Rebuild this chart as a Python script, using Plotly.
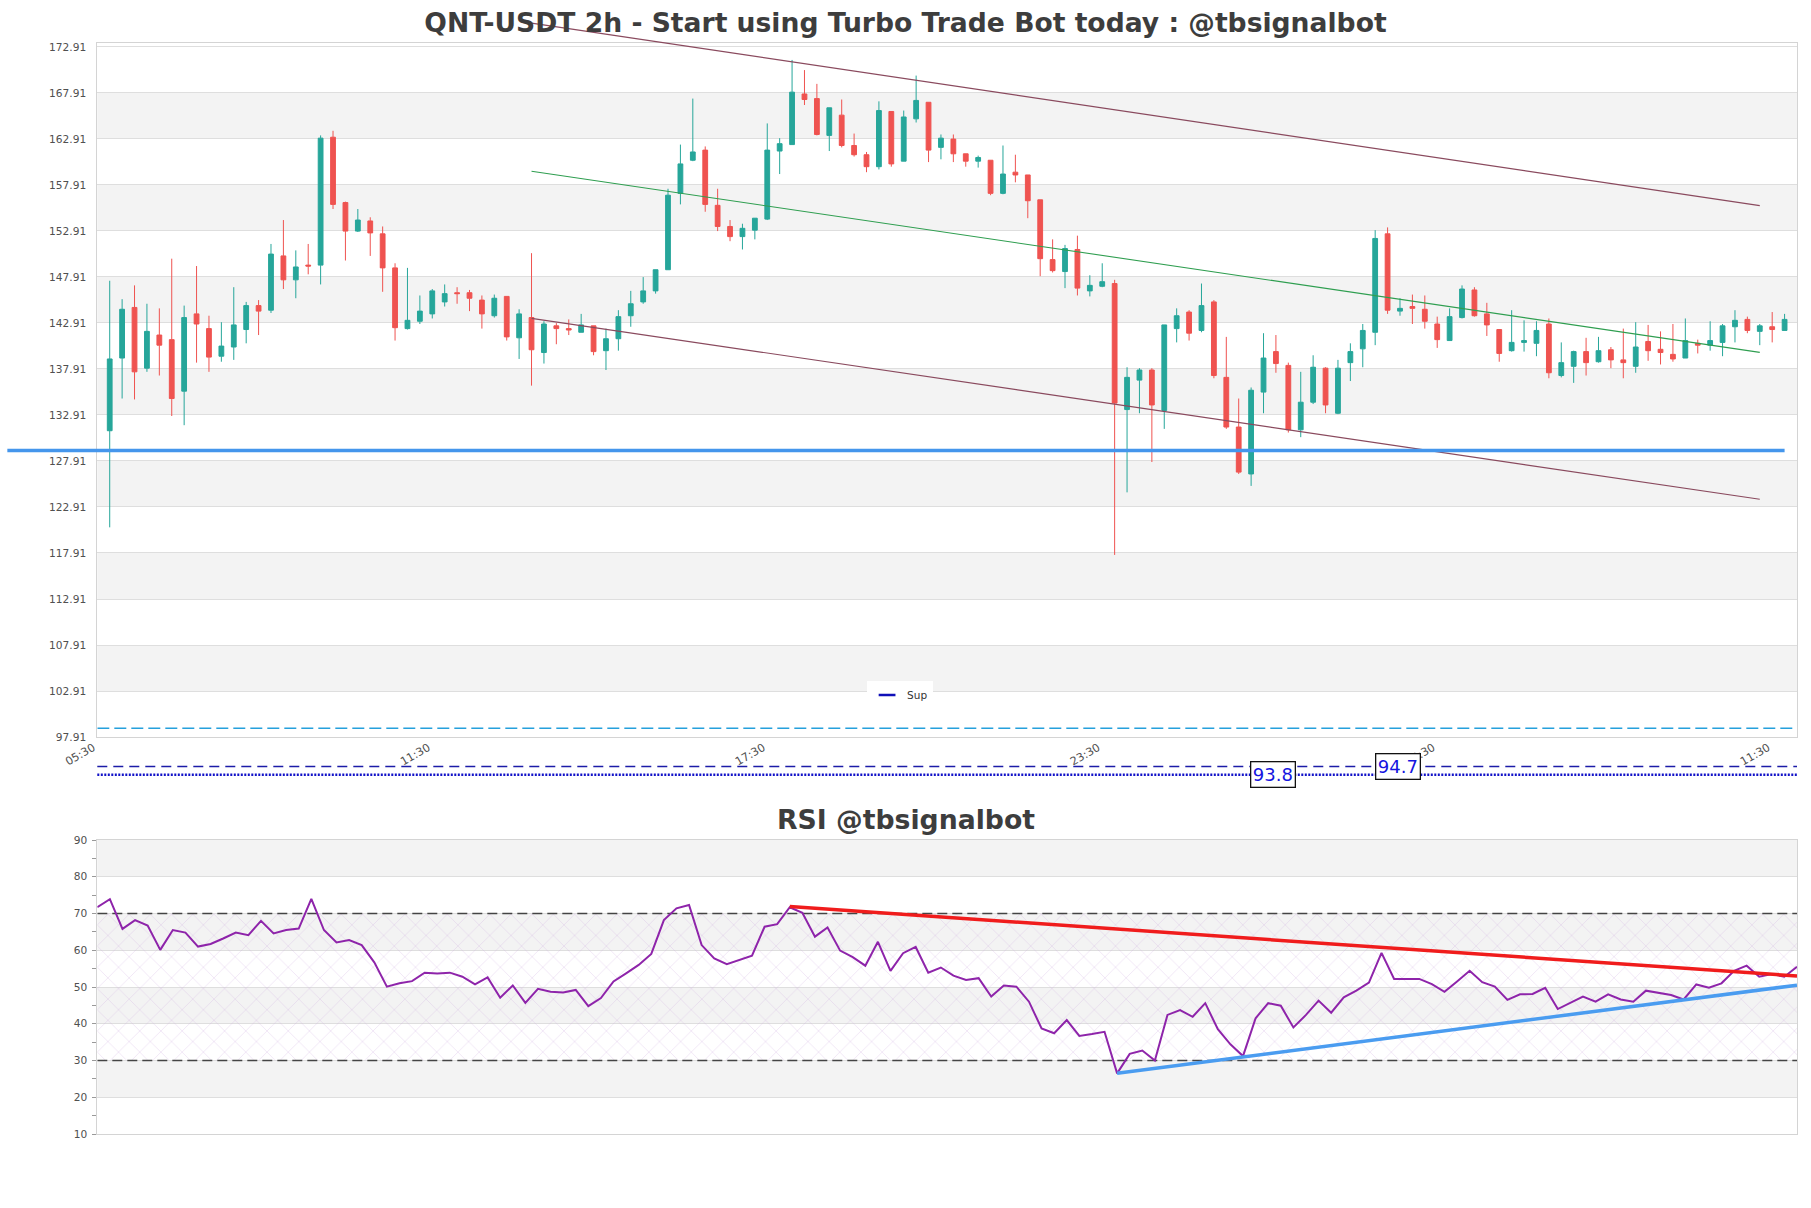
import numpy as np
import pandas as pd
import plotly.graph_objects as go

W, H = 1811, 1208

# ---------------- data ----------------
start = pd.Timestamp("2024-06-01 07:30")
bar_hours = 2

opens = [131.2, 139.1, 144.6, 138.0, 141.6, 141.1, 135.5, 143.9, 142.3, 139.3,
         140.3, 142.2, 144.8, 144.3, 150.2, 147.6, 149.2, 149.2, 163.1, 156.0,
         152.9, 154.0, 152.6, 148.9, 142.3, 143.1, 143.9, 145.2, 146.2, 146.2,
         145.4, 143.7, 145.8, 141.3, 143.5, 139.7, 142.6, 142.3, 141.9, 142.6,
         139.9, 141.2, 143.7, 145.2, 146.4, 148.7, 157.0, 160.6, 161.7, 155.7,
         153.4, 152.3, 153.0, 154.2, 161.6, 162.3, 167.8, 167.3, 163.3, 165.5,
         162.2, 161.2, 159.9, 165.9, 160.5, 165.1, 166.9, 162.0, 162.9, 161.3,
         160.5, 160.6, 157.0, 159.3, 159.0, 156.3, 149.8, 148.5, 150.9, 146.4,
         146.9, 147.2, 133.5, 136.7, 137.8, 133.4, 142.3, 144.1, 142.1, 145.2,
         137.0, 131.6, 126.5, 135.4, 139.8, 138.3, 131.3, 134.3, 138.0, 133.1,
         138.6, 140.1, 141.9, 152.6, 144.2, 144.7, 144.4, 142.8, 141.0, 143.5,
         146.5, 143.9, 142.2, 139.9, 140.8, 140.7, 142.8, 137.2, 138.2, 139.8,
         138.7, 140.0, 138.9, 138.2, 140.9, 140.05, 139.5, 139.1, 140.7, 140.5,
         140.8, 142.5, 143.3, 142.0, 142.5, 142.1]
highs = [147.5, 145.5, 147.0, 145.0, 144.5, 149.9, 144.8, 149.1, 143.7, 143.0,
         146.8, 145.2, 145.4, 151.5, 154.1, 150.8, 151.5, 163.3, 163.8, 156.1,
         155.3, 154.4, 153.4, 149.4, 148.9, 145.9, 146.6, 147.1, 146.8, 146.5,
         145.9, 146.0, 145.8, 144.4, 150.5, 143.1, 142.9, 143.3, 143.9, 142.6,
         142.3, 144.3, 146.4, 147.9, 148.7, 157.5, 162.3, 167.3, 162.1, 157.5,
         154.1, 153.7, 154.3, 164.6, 163.0, 171.5, 170.4, 168.9, 166.3, 167.2,
         163.5, 161.5, 167.0, 165.9, 166.0, 169.8, 166.9, 163.4, 163.4, 161.3,
         161.1, 160.6, 162.2, 161.2, 159.0, 156.3, 152.0, 151.4, 152.4, 148.1,
         149.4, 147.6, 138.1, 138.0, 138.0, 142.7, 144.5, 144.3, 147.2, 145.4,
         141.4, 134.7, 135.9, 141.8, 141.6, 138.6, 137.6, 139.4, 138.1, 138.9,
         140.7, 142.8, 153.0, 153.3, 145.6, 146.0, 145.9, 143.6, 144.5, 147.0,
         146.8, 145.1, 142.2, 144.3, 143.2, 143.1, 143.4, 140.8, 139.9, 141.3,
         141.4, 140.3, 142.3, 143.0, 142.7, 142.0, 142.8, 143.4, 141.1, 143.1,
         142.8, 144.3, 143.6, 142.8, 144.1, 143.9]
lows = [120.7, 134.7, 134.6, 137.6, 137.2, 132.8, 131.8, 138.6, 137.6, 138.7,
        138.9, 140.7, 141.6, 144.0, 146.6, 145.6, 148.2, 147.1, 155.3, 149.7,
        152.8, 150.2, 146.3, 141.0, 142.2, 142.8, 143.4, 144.7, 145.0, 144.2,
        142.3, 143.5, 141.0, 139.0, 136.1, 138.5, 140.6, 141.6, 141.9, 139.4,
        137.8, 139.9, 142.5, 145.0, 146.1, 148.7, 155.8, 160.5, 155.0, 152.9,
        151.8, 150.9, 152.0, 154.1, 159.1, 162.3, 166.6, 163.3, 161.6, 162.0,
        161.0, 159.3, 159.6, 159.9, 160.5, 164.7, 160.4, 160.7, 160.4, 159.9,
        159.8, 156.8, 156.9, 158.2, 154.3, 148.0, 148.4, 146.7, 145.9, 145.8,
        146.8, 117.7, 124.5, 133.1, 127.8, 131.4, 140.8, 141.0, 141.9, 136.9,
        131.4, 126.5, 125.2, 133.1, 137.5, 131.0, 130.5, 134.1, 133.1, 133.0,
        136.6, 138.1, 140.5, 143.9, 143.7, 142.8, 142.3, 140.2, 141.0, 143.4,
        143.6, 141.5, 138.7, 139.8, 139.8, 139.3, 136.9, 137.0, 136.4, 137.2,
        138.6, 138.0, 136.9, 137.5, 138.8, 138.4, 138.7, 139.1, 139.6, 139.9,
        139.3, 140.8, 141.8, 140.5, 140.8, 142.1]
closes = [139.0, 144.4, 137.6, 142.0, 140.5, 134.7, 143.5, 142.8, 139.2, 140.4,
          142.7, 144.8, 144.2, 150.4, 147.6, 149.0, 149.1, 163.0, 155.8, 152.9,
          154.1, 152.7, 148.9, 142.4, 143.2, 144.2, 146.4, 146.1, 146.1, 145.6,
          143.9, 145.6, 141.4, 143.9, 140.0, 142.8, 142.3, 142.15, 142.7, 139.8,
          141.2, 143.6, 145.0, 146.4, 148.7, 156.8, 160.2, 161.5, 155.8, 153.4,
          152.3, 153.2, 154.3, 161.7, 162.4, 168.0, 167.2, 163.4, 166.3, 162.2,
          161.2, 159.9, 166.0, 160.2, 165.3, 167.1, 161.7, 163.0, 161.3, 160.5,
          160.9, 157.0, 159.1, 159.0, 156.2, 149.9, 148.6, 151.0, 146.7, 147.0,
          147.4, 134.2, 137.0, 137.8, 134.0, 142.7, 143.7, 141.8, 144.8, 137.2,
          131.6, 126.7, 135.6, 139.1, 138.5, 131.3, 134.3, 138.1, 134.0, 138.0,
          139.8, 142.1, 152.1, 144.3, 144.5, 144.5, 143.1, 141.1, 143.6, 146.6,
          143.7, 142.7, 139.6, 140.8, 141.0, 142.1, 137.5, 138.6, 139.8, 138.6,
          139.9, 138.9, 138.6, 140.3, 139.9, 139.7, 139.0, 141.0, 140.5, 141.0,
          142.6, 143.2, 142.1, 142.6, 142.2, 143.3]
rsi = [71.7, 73.9, 65.8, 68.2, 66.7, 60.1, 65.5, 64.8, 61.0, 61.7,
       63.2, 64.8, 64.1, 68.0, 64.6, 65.5, 65.9, 74.0, 65.5, 62.1,
       62.8, 61.4, 56.7, 50.1, 51.0, 51.6, 53.9, 53.7, 53.9, 52.8,
       50.7, 52.6, 47.1, 50.4, 45.7, 49.5, 48.7, 48.5, 49.2, 44.8,
       47.0, 51.5, 53.7, 56.0, 59.0, 68.2, 71.4, 72.3, 61.4, 57.8,
       56.2, 57.3, 58.5, 66.4, 67.1, 71.7, 70.2, 63.7, 66.2, 59.9,
       58.1, 55.8, 62.3, 54.4, 59.2, 60.9, 53.9, 55.3, 53.1, 51.9,
       52.4, 47.4, 50.4, 50.1, 46.0, 38.7, 37.4, 41.0, 36.7, 37.2,
       37.8, 26.5, 31.8, 32.7, 30.0, 42.4, 43.7, 41.9, 45.6, 38.5,
       34.4, 31.2, 41.5, 45.6, 44.9, 39.0, 42.4, 46.3, 43.0, 47.2,
       49.0, 51.2, 59.3, 52.2, 52.2, 52.2, 50.8, 48.7, 51.5, 54.4,
       51.3, 50.1, 46.5, 48.0, 48.1, 49.8, 44.0, 45.7, 47.4, 46.0,
       48.0, 46.6, 46.0, 49.0, 48.5, 47.8, 46.6, 50.7, 49.8, 51.0,
       54.4, 55.8, 52.8, 53.5, 52.8, 55.5]

# channel (candle index of start/end, price at start/end)
chan_idx = [34, 133]
chan_upper = [175.5, 155.66]
chan_mid = [159.4, 139.72]
chan_lower = [143.42, 123.75]
sup_idx = [-8.25, 135]
sup_level = 129.05
cyan_level = 98.86
lvl_dashed = 94.7
lvl_dotted = 93.8
label_idx = [93.8, 103.8]
label_vals = [93.8, 94.7]
rsi_res_idx, rsi_res_val = [55, 135], [71.9, 53.0]
rsi_sup_idx, rsi_sup_val = [81, 135], [26.5, 50.5]
rsi_levels = [30, 70]

price_ticks = [round(97.91 + 5 * k, 2) for k in range(16)]
rsi_ticks = list(range(10, 100, 10))
xtick_idx = [-1, 26, 53, 80, 107, 134]

# ---------------- geometry ----------------
n = len(opens)
times = pd.date_range(start, periods=n, freq=f"{bar_hours}h")


def T(i):
    return start + pd.Timedelta(hours=bar_hours * i)


def iso(ts):
    return ts.strftime("%Y-%m-%d %H:%M:%S.%f")


px_left, px_right = 97.3, 1797.0
main_top, main_bot = 43.3, 737.0
rsi_top, rsi_bot = 840.0, 1134.0
xd = [px_left / W, px_right / W]
yd_main = [1 - main_bot / H, 1 - main_top / H]
yd_rsi = [1 - rsi_bot / H, 1 - rsi_top / H]
x_idx_range = [-1, n]
y_main_range = [97.91, 173.31]

# overlay (full-figure) axes with same scale as main subplot
kx = (x_idx_range[1] - x_idx_range[0]) / (xd[1] - xd[0])
x3_idx = [x_idx_range[0] - xd[0] * kx, x_idx_range[1] + (1 - xd[1]) * kx]
ky = (y_main_range[1] - y_main_range[0]) / (yd_main[1] - yd_main[0])
y3_range = [y_main_range[0] - yd_main[0] * ky, y_main_range[1] + (1 - yd_main[1]) * ky]

FONT = "DejaVu Sans"
TXT = "#505050"
GRID = "#dedede"
FRAME = "#d4d4d4"
BAND = "#f3f3f3"

fig = go.Figure()

# candles
fig.add_trace(go.Candlestick(
    x=times, open=opens, high=highs, low=lows, close=closes,
    increasing=dict(line=dict(color="#26a69a", width=1), fillcolor="#26a69a"),
    decreasing=dict(line=dict(color="#ef5350", width=1), fillcolor="#ef5350"),
    showlegend=False, xaxis="x", yaxis="y", hoverinfo="skip"))

# cyan dashed level inside main plot
fig.add_trace(go.Scatter(
    x=[T(x_idx_range[0]), T(x_idx_range[1])], y=[cyan_level, cyan_level],
    mode="lines", line=dict(color="#25a0dc", width=1.3, dash="12px,5px"),
    showlegend=False, xaxis="x", yaxis="y", hoverinfo="skip"))

# overlay lines (not clipped to the main plot)
for vals, col, w in [(chan_upper, "#8a4a5e", 1.2), (chan_mid, "#2f9e50", 1.1),
                     (chan_lower, "#8a4a5e", 1.2)]:
    fig.add_trace(go.Scatter(
        x=[T(chan_idx[0]), T(chan_idx[1])], y=vals, mode="lines",
        line=dict(color=col, width=w), showlegend=False,
        xaxis="x3", yaxis="y3", hoverinfo="skip"))

fig.add_trace(go.Scatter(
    x=[T(sup_idx[0]), T(sup_idx[1])], y=[sup_level, sup_level], mode="lines",
    line=dict(color="#4596ec", width=3.3), showlegend=False,
    xaxis="x3", yaxis="y3", hoverinfo="skip"))

fig.add_trace(go.Scatter(
    x=[T(x_idx_range[0]), T(x_idx_range[1])], y=[lvl_dashed, lvl_dashed], mode="lines",
    line=dict(color="#1c1ca8", width=1.5, dash="10px,6px"), showlegend=False,
    xaxis="x3", yaxis="y3", hoverinfo="skip"))
fig.add_trace(go.Scatter(
    x=[T(x_idx_range[0]), T(x_idx_range[1])], y=[lvl_dotted, lvl_dotted], mode="lines",
    line=dict(color="#1212c8", width=2.6, dash="2px,1.5px"), showlegend=False,
    xaxis="x3", yaxis="y3", hoverinfo="skip"))

# legend entry
fig.add_trace(go.Scatter(
    x=[None], y=[None], mode="markers", name="Sup",
    marker=dict(symbol="line-ew-open", size=12, color="#1010b8",
                line=dict(width=2.5, color="#1010b8")),
    xaxis="x", yaxis="y"))

# RSI hatched zone + dashed levels
fig.add_trace(go.Scatter(
    x=[times[0], times[-1]], y=[rsi_levels[0]] * 2, mode="lines",
    line=dict(color="#444444", width=1.3, dash="10px,5px"),
    showlegend=False, xaxis="x2", yaxis="y2", hoverinfo="skip"))
fig.add_trace(go.Scatter(
    x=[times[0], times[-1]], y=[rsi_levels[1]] * 2, mode="lines",
    line=dict(color="#444444", width=1.3, dash="10px,5px"),
    fill="tonexty", fillcolor="rgba(0,0,0,0)",
    fillpattern=dict(shape="x", size=15, solidity=0.06,
                     fgcolor="rgba(200,160,220,0.55)", bgcolor="rgba(0,0,0,0)"),
    showlegend=False, xaxis="x2", yaxis="y2", hoverinfo="skip"))

fig.add_trace(go.Scatter(
    x=times, y=rsi, mode="lines", line=dict(color="#8e24aa", width=2),
    showlegend=False, xaxis="x2", yaxis="y2", hoverinfo="skip"))
fig.add_trace(go.Scatter(
    x=[T(i) for i in rsi_res_idx], y=rsi_res_val, mode="lines",
    line=dict(color="#f01c1c", width=3.5), showlegend=False,
    xaxis="x2", yaxis="y2", hoverinfo="skip"))
fig.add_trace(go.Scatter(
    x=[T(i) for i in rsi_sup_idx], y=rsi_sup_val, mode="lines",
    line=dict(color="#4a9cf0", width=3.5), showlegend=False,
    xaxis="x2", yaxis="y2", hoverinfo="skip"))

# zebra bands
shapes = []
for k in range(1, len(price_ticks) - 1, 2):
    shapes.append(dict(type="rect", xref="x domain", yref="y", x0=0, x1=1,
                       y0=price_ticks[k], y1=price_ticks[k + 1],
                       fillcolor=BAND, line=dict(width=0), layer="below"))
for k in range(1, len(rsi_ticks) - 1, 2):
    shapes.append(dict(type="rect", xref="x2 domain", yref="y2", x0=0, x1=1,
                       y0=rsi_ticks[k], y1=rsi_ticks[k + 1],
                       fillcolor=BAND, line=dict(width=0), layer="below"))

annotations = [
    dict(text="RSI @tbsignalbot", xref="paper", yref="paper", x=0.5,
         y=1 - 819.5 / H, xanchor="center", yanchor="middle", showarrow=False,
         font=dict(family=FONT, size=26.7, color="#3d3d3d", weight="bold")),
]
for xi, v in zip(label_idx, label_vals):
    annotations.append(dict(
        text=f"{v:.1f}", xref="x3", yref="y3", x=T(xi), y=v, showarrow=False,
        xanchor="center", yanchor="middle",
        font=dict(family=FONT, size=18, color="#1515e0"),
        bgcolor="white", bordercolor="#111111", borderwidth=1.3, borderpad=1.5))

axis_font = dict(family=FONT, size=10.6, color=TXT)

fig.update_layout(
    width=W, height=H, template="none",
    margin=dict(l=0, r=0, t=0, b=0, pad=0),
    paper_bgcolor="white", plot_bgcolor="rgba(0,0,0,0)",
    font=dict(family=FONT, color=TXT),
    boxgap=0.45,
    title=dict(text="QNT-USDT 2h - Start using Turbo Trade Bot today : @tbsignalbot",
               x=0.5, xanchor="center", xref="container",
               y=1 - 22.5 / H, yanchor="middle", yref="container",
               font=dict(family=FONT, size=26.6, color="#3d3d3d", weight="bold")),
    showlegend=True,
    legend=dict(x=0.497, xanchor="center", y=1 - 695 / H, yanchor="middle",
                orientation="h", bgcolor="white", borderwidth=0,
                font=dict(family=FONT, size=10.5, color="#333333"),
                itemwidth=30),
    xaxis=dict(domain=xd, anchor="y", type="date",
               range=[iso(T(x_idx_range[0])), iso(T(x_idx_range[1]))],
               rangeslider=dict(visible=False),
               tickvals=[T(i) for i in xtick_idx], tickformat="%H:%M",
               tickangle=-30, tickfont=dict(family=FONT, size=11.2, color=TXT),
               ticks="", ticklabelshift=-4, ticklabelstandoff=-1,
               showgrid=False, zeroline=False, showline=True, mirror=True,
               linecolor=FRAME, linewidth=1, automargin=False),
    yaxis=dict(domain=yd_main, anchor="x", range=y_main_range,
               tickvals=price_ticks, ticktext=[f"{v:.2f}" for v in price_ticks],
               tickfont=axis_font, ticks="", ticklabelstandoff=8,
               showgrid=True, gridcolor=GRID, gridwidth=1, zeroline=False,
               showline=True, mirror=True, linecolor=FRAME, linewidth=1,
               automargin=False),
    xaxis2=dict(domain=xd, anchor="y2", type="date",
                range=[iso(times[0]), iso(times[-1])],
                showticklabels=False, ticks="", showgrid=False, zeroline=False,
                showline=True, mirror=True, linecolor=FRAME, linewidth=1,
                automargin=False),
    yaxis2=dict(domain=yd_rsi, anchor="x2", range=[10, 90],
                tickvals=rsi_ticks, tickfont=axis_font,
                ticks="outside", ticklen=4, tickcolor="#999999", tickwidth=1,
                ticklabelstandoff=3,
                minor=dict(tickvals=[v + 5 for v in rsi_ticks[:-1]], ticks="outside",
                           ticklen=4, tickcolor="#999999", showgrid=False),
                showgrid=True, gridcolor=GRID, gridwidth=1, zeroline=False,
                showline=True, mirror=True, linecolor=FRAME, linewidth=1,
                automargin=False),
    xaxis3=dict(domain=[0, 1], anchor="y3", type="date",
                range=[iso(T(x3_idx[0])), iso(T(x3_idx[1]))],
                visible=False, automargin=False),
    yaxis3=dict(domain=[0, 1], anchor="x3", range=y3_range,
                visible=False, automargin=False),
    shapes=shapes,
    annotations=annotations,
)

fig.write_html("out.html")
